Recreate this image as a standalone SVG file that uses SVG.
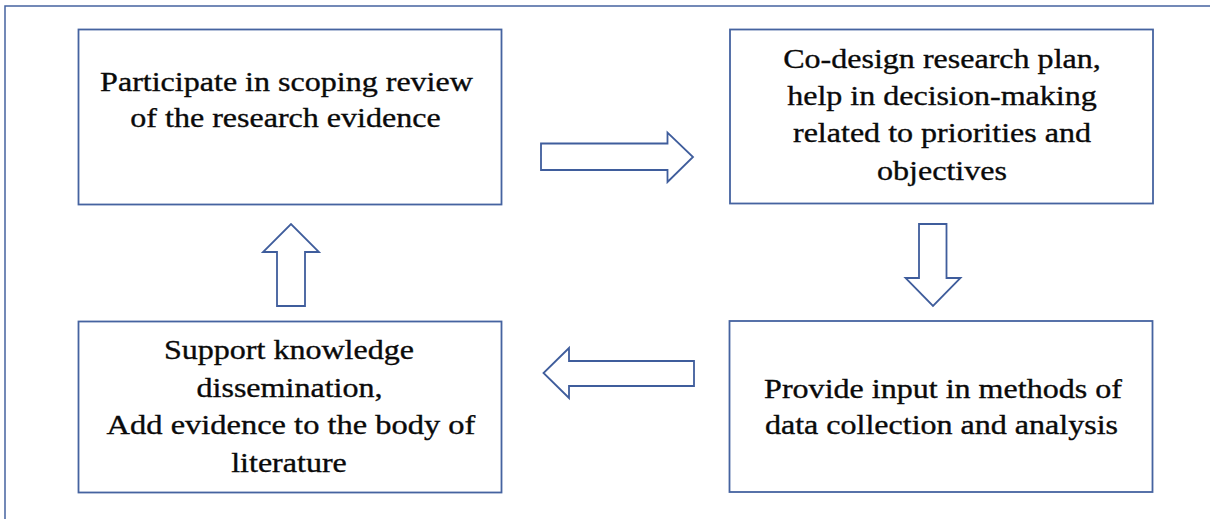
<svg xmlns="http://www.w3.org/2000/svg" width="1210" height="519" viewBox="0 0 1210 519">
<style>
.frame{fill:none;stroke:#4563a0;stroke-width:1.5}
.box{fill:#fff;stroke:#4563a0;stroke-width:1.8}
.arr{fill:#fff;stroke:#3f5d9c;stroke-width:1.8;stroke-linejoin:miter}
.t{font-family:"Liberation Serif","Times New Roman",serif;font-size:28px;fill:#0a0a0a;stroke:#0a0a0a;stroke-width:0.35;text-anchor:middle}
</style>
<rect x="0" y="0" width="1210" height="519" fill="#fff"/>
<path class="frame" d="M5,519 V6 H1210"/>
<g id="n1">
<rect class="box" x="78.5" y="29.5" width="423" height="175"/>
<text class="t" x="286.5" y="91" transform="translate(286.5 0) scale(1.145 1) translate(-286.5 0)">Participate in scoping review</text>
<text class="t" x="285.5" y="127" transform="translate(285.5 0) scale(1.145 1) translate(-285.5 0)">of the research evidence</text>
</g>
<g id="n2">
<rect class="box" x="730" y="29.5" width="423" height="174"/>
<text class="t" x="942" y="68" transform="translate(942 0) scale(1.145 1) translate(-942 0)">Co-design research plan,</text>
<text class="t" x="942" y="105.5" transform="translate(942 0) scale(1.145 1) translate(-942 0)">help in decision-making</text>
<text class="t" x="942" y="142.5" transform="translate(942 0) scale(1.145 1) translate(-942 0)">related to priorities and</text>
<text class="t" x="942" y="180" transform="translate(942 0) scale(1.145 1) translate(-942 0)">objectives</text>
</g>
<g id="n3">
<rect class="box" x="729.5" y="321" width="423" height="171"/>
<text class="t" x="943" y="398" transform="translate(943 0) scale(1.145 1) translate(-943 0)">Provide input in methods of</text>
<text class="t" x="941.5" y="434" transform="translate(941.5 0) scale(1.145 1) translate(-941.5 0)">data collection and analysis</text>
</g>
<g id="n4">
<rect class="box" x="78.5" y="321.5" width="423" height="171"/>
<text class="t" x="289" y="359" transform="translate(289 0) scale(1.145 1) translate(-289 0)">Support knowledge</text>
<text class="t" x="289.5" y="397.5" transform="translate(289.5 0) scale(1.145 1) translate(-289.5 0)">dissemination,</text>
<text class="t" x="291" y="434.5" transform="translate(291 0) scale(1.16 1) translate(-291 0)">Add evidence to the body of</text>
<text class="t" x="289" y="472" transform="translate(289 0) scale(1.145 1) translate(-289 0)">literature</text>
</g>
<g id="connectors">
<path class="arr" d="M541,143.5 H667.5 V132.5 L693,157 L667.5,182 V170 H541 Z"/>
<path class="arr" d="M919,224 H946.5 V278 H960.5 L933,306 L905.5,278 H919 Z"/>
<path class="arr" d="M694,361 H569 V348 L543.5,373 L569,398 V386 H694 Z"/>
<path class="arr" d="M277,306 V252 H263 L291,224 L319,252 H305 V306 Z"/>
</g>
</svg>
